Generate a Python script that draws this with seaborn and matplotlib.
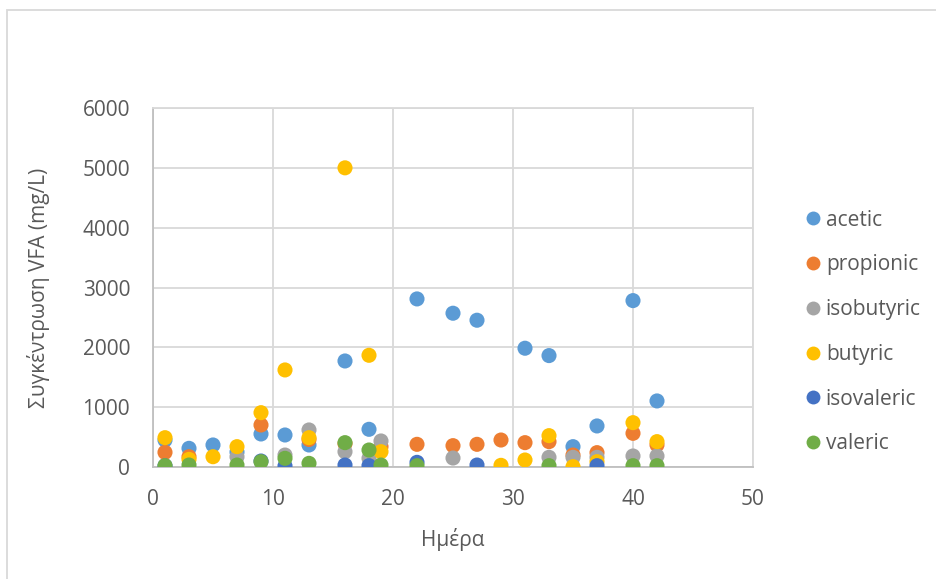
import numpy as np
import pandas as pd
import matplotlib
matplotlib.use("Agg")
import matplotlib.pyplot as plt
from matplotlib.lines import Line2D
from matplotlib.patches import Rectangle
import seaborn as sns

nan = np.nan

days = [1, 3, 5, 7, 9, 11, 13, 16, 18, 19, 22, 25, 27, 29, 31, 33, 35, 37, 40, 42]

acetic     = [450, 312, 368, 250, 552, 535, 368, 1772, 630, nan, 2809, 2570, 2453, nan, 1985, 1862, 340, 686, 2781, 1104]
propionic  = [245, 172, nan, nan, 702, nan, 460, 390, nan, 340, 379, 357, 379, 451, 407, 424, 200, 240, 563, 370]
isobutyric = [nan, nan, nan, 170, nan, 200, 619, 256, 145, 435, nan, 150, nan, nan, nan, 162, 162, 162, 184, 184]
butyric    = [490, 128, 172, 340, 908, 1622, 490, 5000, 1867, 256, nan, nan, nan, 28, 117, 524, 6, 89, 741, 424]
isovaleric = [20, nan, nan, nan, 100, 17, nan, 33, 22, nan, 78, nan, 33, nan, nan, nan, nan, 22, nan, nan]
valeric    = [22, 33, nan, 33, 89, 145, 61, 407, 284, 33, 22, nan, nan, nan, nan, 22, nan, nan, 22, 22]

series_names = ["acetic", "propionic", "isobutyric", "butyric", "isovaleric", "valeric"]
series_values = [acetic, propionic, isobutyric, butyric, isovaleric, valeric]
colors = ["#5B9BD5", "#ED7D31", "#A5A5A5", "#FFC000", "#4472C4", "#70AD47"]

x_ticks = [0, 10, 20, 30, 40, 50]
y_ticks = [0, 1000, 2000, 3000, 4000, 5000, 6000]
x_label = "Ημέρα"
y_label = "Συγκέντρωση VFA (mg/L)"

frames = []
for name, vals in zip(series_names, series_values):
    frames.append(pd.DataFrame({"day": days, "value": vals, "acid": name}))
df = pd.concat(frames, ignore_index=True).dropna()

sns.set_theme(style="white")
plt.rcParams["font.family"] = ["Open Sans", "DejaVu Sans"]
text_color = "#595959"
grid_color = "#D9D9D9"
fs = 15

fig = plt.figure(figsize=(9.36, 5.79), dpi=100)
ax = fig.add_axes([153 / 936, 1 - 467 / 579, 600 / 936, 359 / 579])

sns.scatterplot(data=df, x="day", y="value", hue="acid", hue_order=series_names,
                palette=colors, s=118, linewidth=0, alpha=1, ax=ax, legend=False,
                zorder=3)

ax.set_xlim(0, 50)
ax.set_ylim(0, 6000)
ax.set_xticks(x_ticks)
ax.set_yticks(y_ticks)
ax.set_xticklabels([str(t) for t in x_ticks])
ax.set_yticklabels([str(t) for t in y_ticks])
ax.tick_params(axis="both", length=0, labelsize=fs, labelcolor=text_color)
ax.tick_params(axis="y", pad=16.5)
ax.tick_params(axis="x", pad=16)

ax.grid(True, color=grid_color, linewidth=1.3)
ax.set_axisbelow(True)
for side in ["left", "bottom", "right", "top"]:
    ax.spines[side].set_visible(True)
    ax.spines[side].set_color(grid_color)
    ax.spines[side].set_linewidth(1.3)
ax.spines["left"].set_color("#BFBFBF")
ax.spines["bottom"].set_color("#BFBFBF")

ax.set_xlabel(x_label, fontsize=fs, color=text_color)
ax.set_ylabel(y_label, fontsize=fs, color=text_color)
ax.xaxis.set_label_coords(300 / 600, -(528 - 467) / 359)
ax.yaxis.set_label_coords(-(153 - 50) / 600, (467 - 288) / 359)

handles = [Line2D([0], [0], marker="o", linestyle="", markersize=10,
                  markerfacecolor=c, markeredgewidth=0) for c in colors]
leg = fig.legend(handles, series_names, loc="center left",
                 bbox_to_anchor=(782 / 936, 1 - 332 / 579), frameon=False,
                 fontsize=fs, labelspacing=1.14, handletextpad=0.0,
                 handlelength=1.2)
for t in leg.get_texts():
    t.set_color(text_color)

# chart-area frame
fig.patches.append(Rectangle((7 / 936, -0.1), 1.2, 0.1 + 1 - 10 / 579,
                             transform=fig.transFigure, fill=False,
                             edgecolor=grid_color, linewidth=1.3))

fig.savefig("out.png", dpi=100)
